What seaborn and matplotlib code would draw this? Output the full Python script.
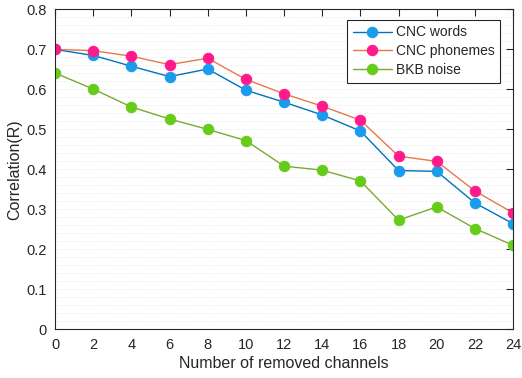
import numpy as np
import pandas as pd
import matplotlib
matplotlib.use("Agg")
import matplotlib.pyplot as plt
import seaborn as sns
from matplotlib.ticker import MultipleLocator

removed = [0, 2, 4, 6, 8, 10, 12, 14, 16, 18, 20, 22, 24]
cnc_words = [0.700, 0.685, 0.658, 0.632, 0.651, 0.598, 0.568, 0.536, 0.496,
             0.397, 0.395, 0.316, 0.264]
cnc_phonemes = [0.700, 0.697, 0.683, 0.662, 0.678, 0.625, 0.589, 0.558, 0.523,
                0.433, 0.420, 0.346, 0.291]
bkb_noise = [0.641, 0.601, 0.556, 0.526, 0.500, 0.472, 0.408, 0.398, 0.371,
             0.273, 0.306, 0.252, 0.210]

series_names = ["CNC words", "CNC phonemes", "BKB noise"]
line_colors = ["#0072BD", "#E8784A", "#77AC30"]
marker_colors = ["#1A9BEB", "#FF1A8C", "#66CC1A"]

df = pd.concat([
    pd.DataFrame({"x": removed, "y": vals, "series": name})
    for name, vals in zip(series_names, [cnc_words, cnc_phonemes, bkb_noise])
])

sns.set_style("white")
plt.rcParams["font.family"] = ["Liberation Sans", "DejaVu Sans"]
plt.rcParams["font.size"] = 10.5

fig = plt.figure(figsize=(5.22, 3.78), dpi=100)
ax = fig.add_axes([0.1054, 0.129, 0.8775, 0.846])

# minor dotted grid on y only
ax.yaxis.set_minor_locator(MultipleLocator(0.02))
ax.grid(which="both", axis="y", linestyle=(0, (1, 2.5)), color="#d8d8d8", linewidth=0.6)
ax.set_axisbelow(True)

for name, lc, mc in zip(series_names, line_colors, marker_colors):
    sub = df[df["series"] == name]
    sns.lineplot(data=sub, x="x", y="y", ax=ax, color=lc, linewidth=1.0,
                 marker="o", markersize=7.5, markerfacecolor=mc,
                 markeredgecolor=mc, label=name)

ax.set_xlim(0, 24)
ax.set_ylim(0, 0.8)
ax.set_xticks(removed)
ax.set_yticks(np.arange(0, 0.81, 0.1))
ax.set_yticklabels(["0", "0.1", "0.2", "0.3", "0.4", "0.5", "0.6", "0.7", "0.8"])
ax.set_xlabel("Number of removed channels", fontsize=11.5, color="#262626", labelpad=3)
ax.set_ylabel("Correlation(R)", fontsize=11.5, color="#262626", labelpad=3)
ax.tick_params(which="major", direction="in", length=5, top=True, right=True,
               colors="#262626", labelsize=10.5, width=0.8)
ax.tick_params(axis="x", pad=6)
ax.tick_params(axis="y", pad=6)
ax.tick_params(which="minor", length=0)
for s in ax.spines.values():
    s.set_color("#262626")
    s.set_linewidth(0.8)
    s.set_visible(True)

leg = ax.legend(loc="upper right", bbox_to_anchor=(0.978, 0.976), frameon=True,
                fancybox=False, edgecolor="#262626", framealpha=1,
                fontsize=10, handlelength=2.8, borderpad=0.4,
                labelspacing=0.35, handletextpad=0.3, borderaxespad=0.2)
leg.get_frame().set_linewidth(0.8)

fig.savefig("out.png", dpi=100)
